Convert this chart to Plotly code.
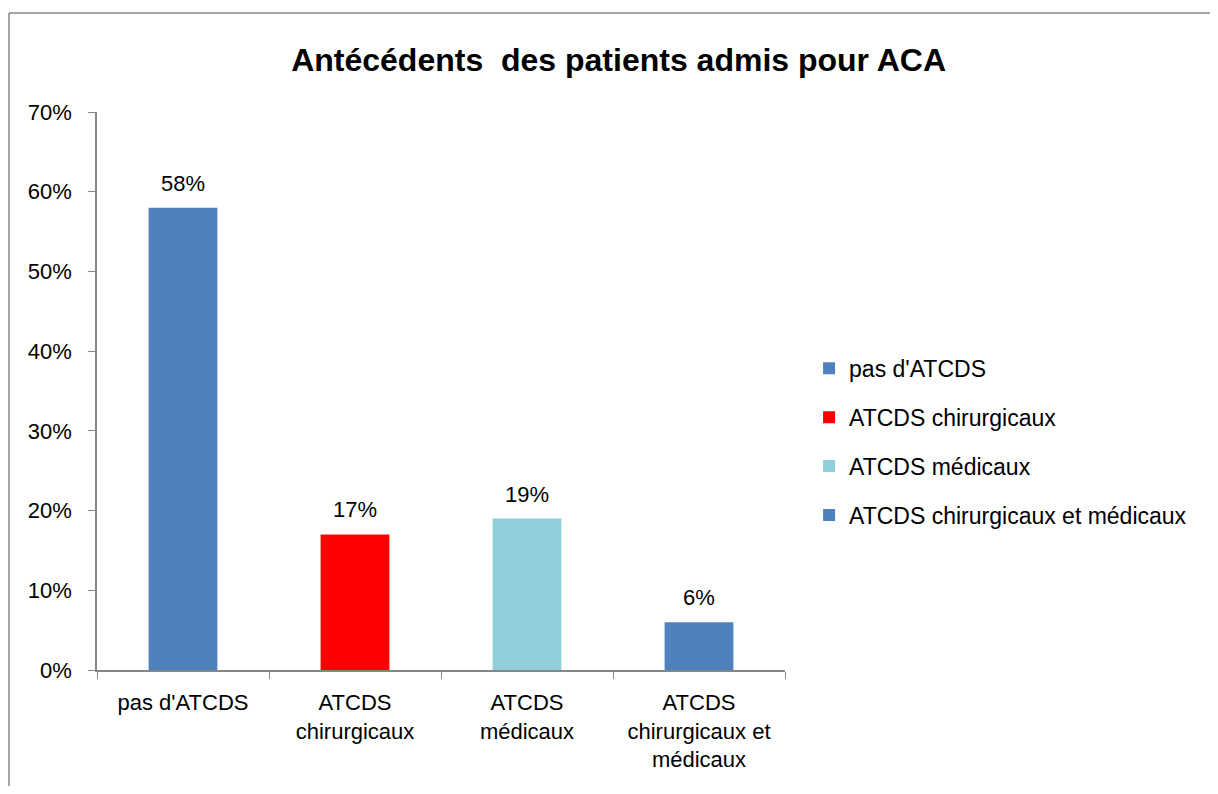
import plotly.graph_objects as go

categories = ["pas d'ATCDS", "ATCDS<br>chirurgicaux", "ATCDS<br>médicaux", "ATCDS<br>chirurgicaux et<br>médicaux"]
legend_names = ["pas d'ATCDS", "ATCDS chirurgicaux", "ATCDS médicaux", "ATCDS chirurgicaux et médicaux"]
values = [0.58, 0.17, 0.19, 0.06]
colors = ["#4F81BD", "#FF0000", "#92CDDC", "#4F81BD"]

FONT = "Liberation Sans"

fig = go.Figure()
for i, (cat, name, v, c) in enumerate(zip(categories, legend_names, values, colors)):
    fig.add_trace(go.Bar(
        x=[cat], y=[v], name=name, marker=dict(color=c, line=dict(width=0)),
        legendgroup=str(i),
    ))
    fig.add_annotation(x=cat, y=v, text=f"{round(v * 100)}%", showarrow=False,
                       xanchor="center", yanchor="bottom", yshift=10,
                       font=dict(family=FONT, size=22, color="#000000"))

fig.update_layout(
    width=1202, height=778,
    paper_bgcolor="white", plot_bgcolor="white",
    barmode="overlay", bargap=0.6,
    margin=dict(l=89, r=425, t=104, b=116),
    title=dict(text="Antécédents&nbsp; des patients admis pour ACA", x=0.508, xanchor="center",
               y=0.934, yanchor="middle",
               font=dict(family=FONT, size=32, color="#000000", weight="bold")),
    font=dict(family=FONT, size=22, color="#000000"),
    legend=dict(x=1.035, y=0.409, xanchor="left", yanchor="middle",
                font=dict(family=FONT, size=23, color="#000000"),
                tracegroupgap=16, bgcolor="rgba(0,0,0,0)"),
    showlegend=True,
)
fig.update_xaxes(categoryorder="array", categoryarray=categories,
                 showline=True, linecolor="#868686", linewidth=1.5,
                 ticks="outside", tickson="boundaries", ticklen=7, tickcolor="#868686",
                 ticklabelstandoff=12,
                 tickfont=dict(family=FONT, size=22, color="#000000"), showgrid=False)
fig.update_yaxes(range=[0, 0.7], dtick=0.1, tickformat=".0%",
                 showline=True, linecolor="#868686", linewidth=1.5,
                 ticks="outside", ticklen=7, tickcolor="#868686",
                 ticklabelstandoff=12,
                 tickfont=dict(family=FONT, size=22, color="#000000"),
                 showgrid=False, zeroline=False)

# outer chart frame (left and top edges; the rest lies outside the picture)
bx0 = (9 - 97) / 688
by1 = (670 - 13) / 558
fig.add_shape(type="line", xref="paper", yref="paper",
              x0=bx0, x1=bx0, y0=(670 - 800) / 558, y1=by1,
              line=dict(color="#898989", width=1.5), layer="below")
fig.add_shape(type="line", xref="paper", yref="paper",
              x0=bx0, x1=(1230 - 97) / 688, y0=by1, y1=by1,
              line=dict(color="#898989", width=1.5), layer="below")

fig.write_html("out.html")
